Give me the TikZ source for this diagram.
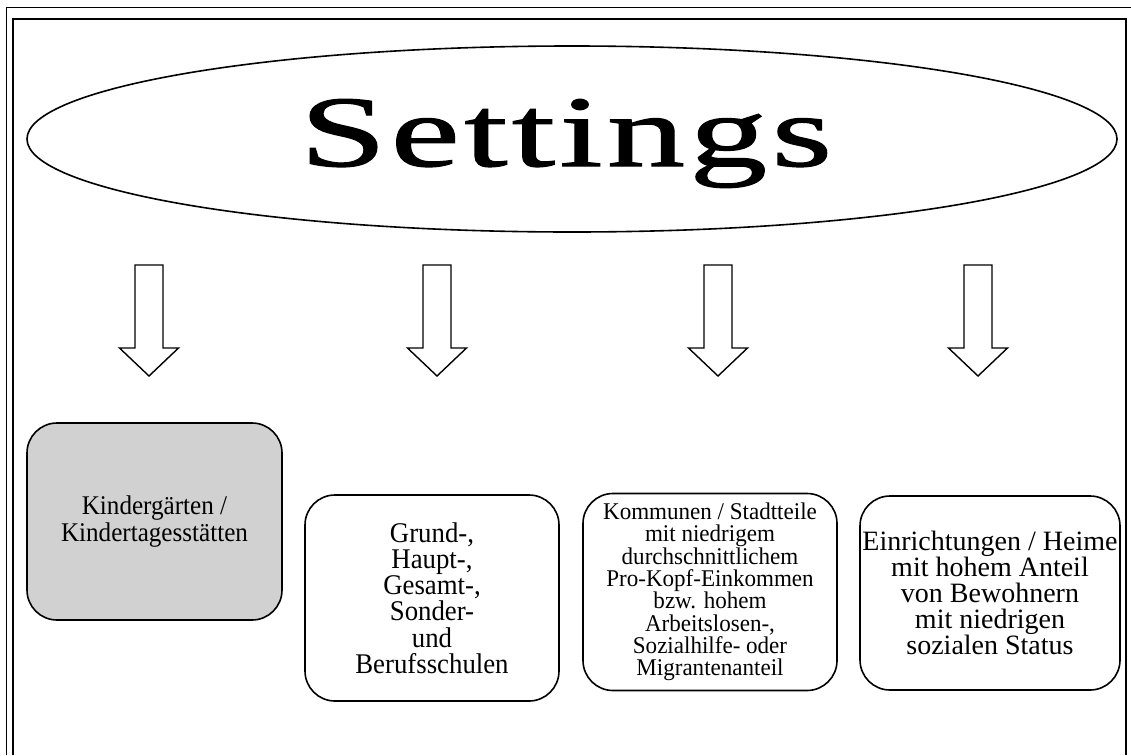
\documentclass[tikz,border=0pt]{standalone}
\usepackage{fontspec}
\setmainfont{Liberation Serif}
\newfontfamily\titlefont[FakeStretch=1.55,LetterSpace=4,FakeBold=1.2]{Liberation Serif}
\newfontfamily\boxfontA[FakeStretch=0.93]{Liberation Serif}
\newfontfamily\boxfontB[FakeStretch=0.94]{Liberation Serif}
\newfontfamily\boxfontC[FakeStretch=0.96]{Liberation Serif}
\usetikzlibrary{shapes.geometric}
\definecolor{boxgray}{RGB}{209,209,209}
\tikzset{
  frameouter/.style={line width=1pt},
  frameinner/.style={line width=2pt},
  settingbox/.style={draw, line width=1.6pt, rounded corners=30pt, align=center,
    inner sep=0pt},
  blockarrow/.pic={
    \draw[line width=1.4pt, line join=miter]
      (-14,0) -- (14,0) -- (14,83) -- (29.5,83) -- (0,111) -- (-29.5,83) -- (-14,83) -- cycle;
  }
}
\begin{document}
\begin{tikzpicture}[x=1pt,y=-1pt]
\useasboundingbox (0,0) rectangle (1131,755);
% page frames
\draw[frameouter] (6,755) -- (6,7) -- (1131,7);
\draw[frameinner] (13,755) -- (13,19) -- (1126,19) -- (1126,755);
% title
\node[draw, ellipse, line width=1.6pt, minimum width=1090pt, minimum height=186pt, inner sep=0pt]
  (head) at (572,139) {};
\node[anchor=base, inner sep=0pt, font=\titlefont\fontsize{101}{101}\selectfont]
  (title) at (566,166) {Settings};
% arrows
\pic (a1) at (149,265) {blockarrow};
\pic (a2) at (437,265) {blockarrow};
\pic (a3) at (718,265) {blockarrow};
\pic (a4) at (978,265) {blockarrow};
% settings
\node[settingbox, fill=boxgray, minimum width=255pt, minimum height=197pt,
  font=\boxfontA\fontsize{27}{27}\selectfont] (b1) at (154.5,521.5)
  {Kindergärten /\\Kindertagesstätten};
\node[settingbox, minimum width=254pt, minimum height=206pt,
  font=\boxfontB\fontsize{28.5}{26.2}\selectfont] (b2) at (432,598)
  {Grund-,\\Haupt-,\\Gesamt-,\\Sonder-\\und\\Berufsschulen};
\node[settingbox, minimum width=254pt, minimum height=197pt,
  font=\boxfontC\fontsize{24}{22.3}\selectfont] (b3) at (710,592)
  {Kommunen / Stadtteile\\mit niedrigem\\durchschnittlichem\\Pro-Kopf-Einkommen\\bzw. hohem\\Arbeitslosen-,\\Sozialhilfe- oder\\Migrantenanteil};
\node[settingbox, minimum width=260pt, minimum height=194pt,
  font=\fontsize{28}{26}\selectfont] (b4) at (990,593)
  {Einrichtungen / Heime\\mit hohem Anteil\\von Bewohnern\\mit niedrigen\\sozialen Status};
\end{tikzpicture}
\end{document}
